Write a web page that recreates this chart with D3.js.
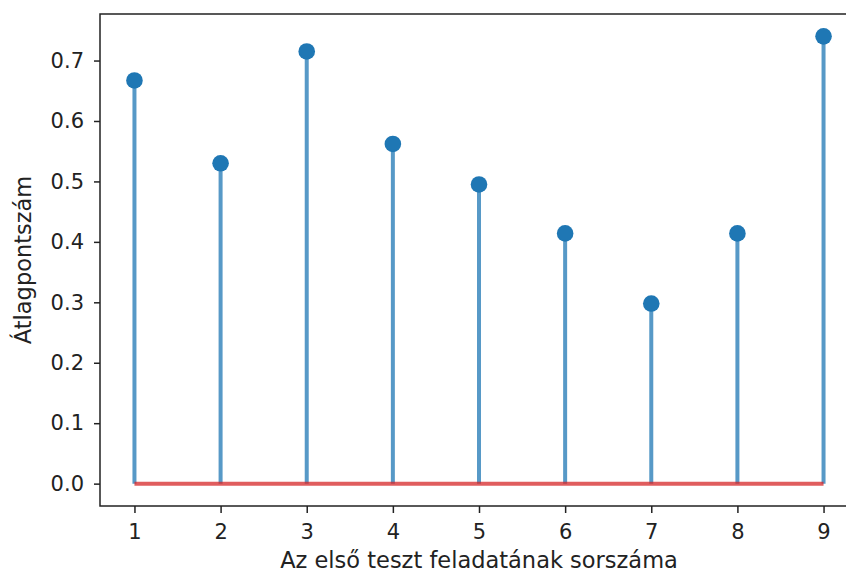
<!DOCTYPE html>
<html>
<head>
<meta charset="utf-8">
<script src="https://cdn.jsdelivr.net/npm/d3@7"></script>
<style>
  body { margin: 0; background: #fff; }
  text { font-family: "DejaVu Sans", sans-serif; fill: #222; }
</style>
</head>
<body>
<div class="chart"></div>
<script>
var tasks = [1, 2, 3, 4, 5, 6, 7, 8, 9];
var averages = [0.667, 0.530, 0.715, 0.562, 0.495, 0.414, 0.298, 0.414, 0.740];
var yTicks = [0.0, 0.1, 0.2, 0.3, 0.4, 0.5, 0.6, 0.7];
var xLabel = "Az első teszt feladatának sorszáma";
var yLabel = "Átlagpontszám";

var width = 846;
var height = 574;
var margin = { left: 100, top: 14, right: -12, bottom: 68 };

var svg = d3.select(".chart")
  .append("svg")
  .attr("width", width)
  .attr("height", height);

// matplotlib-style 5% margins on both axes
var xScale = d3.scaleLinear()
  .domain([0.6, 9.4])
  .range([margin.left, width - margin.right]);

var yMax = d3.max(averages);
var yScale = d3.scaleLinear()
  .domain([-yMax * 0.05, yMax * 1.05])
  .range([height - margin.bottom, margin.top]);

// stems
svg.selectAll(".stem")
  .data(tasks).enter()
  .append("line")
  .attr("class", "stem")
  .attr("x1", function (d) { return xScale(d) })
  .attr("x2", function (d) { return xScale(d) })
  .attr("y1", yScale(0))
  .attr("y2", function (d, i) { return yScale(averages[i]) })
  .style("stroke", "#1f77b4")
  .style("stroke-opacity", 0.75)
  .style("stroke-width", 4);

// baseline
svg.append("line")
  .attr("x1", xScale(d3.min(tasks)))
  .attr("x2", xScale(d3.max(tasks)))
  .attr("y1", yScale(0))
  .attr("y2", yScale(0))
  .style("stroke", "#d62728")
  .style("stroke-opacity", 0.75)
  .style("stroke-width", 4);

// markers
svg.selectAll(".dot")
  .data(tasks).enter()
  .append("circle")
  .attr("class", "dot")
  .attr("cx", function (d) { return xScale(d) })
  .attr("cy", function (d, i) { return yScale(averages[i]) })
  .attr("r", 8.3)
  .style("fill", "#1f77b4");

// Axes
var xAxis = d3.axisBottom(xScale).tickValues(tasks).tickSize(7).tickPadding(11)
  .tickFormat(d3.format("d"));
var yAxis = d3.axisLeft(yScale).tickValues(yTicks).tickSize(6).tickPadding(10)
  .tickFormat(d3.format(".1f"));

var gx = svg.append("g")
  .attr("transform", "translate(0," + (height - margin.bottom) + ")")
  .call(xAxis);
var gy = svg.append("g")
  .attr("transform", "translate(" + margin.left + ",0)")
  .call(yAxis);

[gx, gy].forEach(function (g) {
  g.select(".domain").remove();
  g.selectAll(".tick line").style("stroke", "#222").style("stroke-width", 1.5);
  g.selectAll(".tick text").style("font-size", "21px").style("fill", "#222");
});

// frame
svg.append("rect")
  .attr("x", margin.left)
  .attr("y", margin.top)
  .attr("width", width - margin.right - margin.left)
  .attr("height", height - margin.bottom - margin.top)
  .style("fill", "none")
  .style("stroke", "#222")
  .style("stroke-width", 1.5);

// Labels
svg.append("text")
  .attr("x", (margin.left + width - margin.right) / 2)
  .attr("y", 568)
  .attr("text-anchor", "middle")
  .style("font-size", "22.5px")
  .text(xLabel);

svg.append("text")
  .attr("transform", "translate(31," + ((margin.top + height - margin.bottom) / 2) + ") rotate(-90)")
  .attr("text-anchor", "middle")
  .style("font-size", "22.5px")
  .text(yLabel);
</script>
</body>
</html>
